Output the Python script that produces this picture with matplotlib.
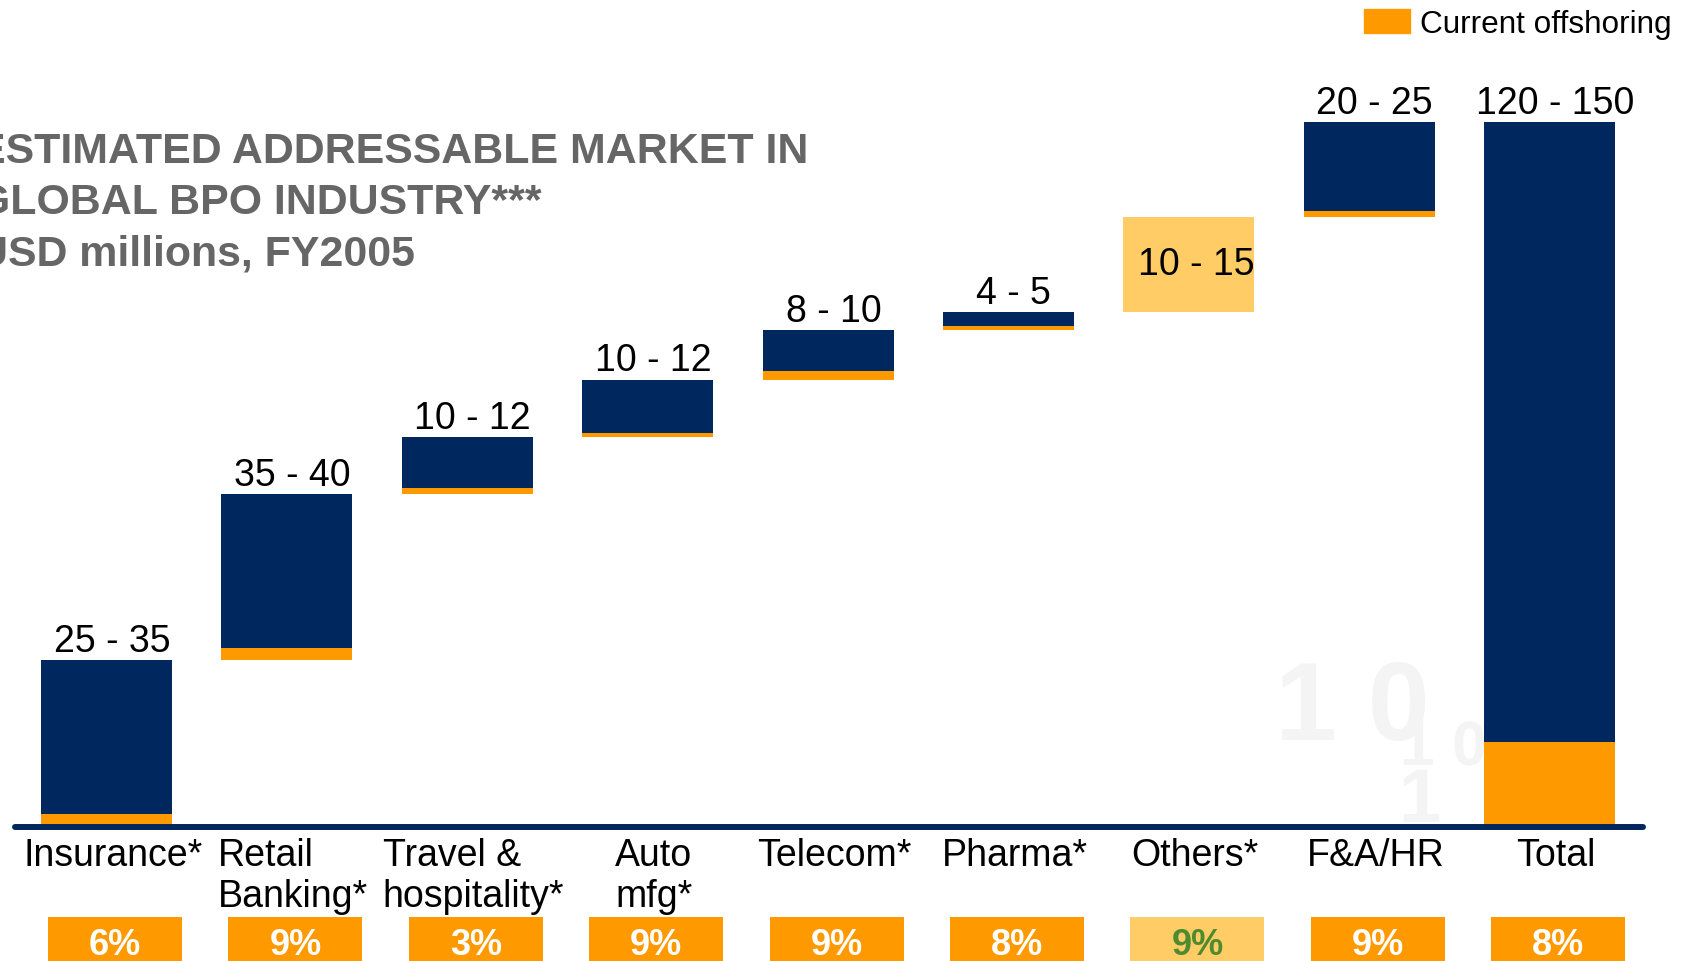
import numpy as np
import matplotlib.pyplot as plt
from matplotlib.patches import Rectangle

plt.rcParams['font.family'] = ['Liberation Sans', 'DejaVu Sans']

categories = ['Insurance*', 'Retail\nBanking*', 'Travel &\nhospitality*', 'Auto\nmfg*',
              'Telecom*', 'Pharma*', 'Others*', 'F&A/HR', 'Total']
range_labels = ['25 - 35', '35 - 40', '10 - 12', '10 - 12', '8 - 10', '4 - 5',
                '10 - 15', '20 - 25', '120 - 150']
# bar sizes (scale where the total bar = 135)
increments = [31.5, 32.0, 11.0, 11.0, 9.5, 3.5, 18.3, 18.2]
offshored = [1.9, 2.4, 1.2, 0.8, 1.6, 0.85, 0.0, 1.2, 15.8]
offshore_pct = ['6%', '9%', '3%', '9%', '9%', '8%', '9%', '9%', '8%']

navy = '#00285E'
orange = '#FF9900'
light = '#FFCC66'
green = '#4E8A2E'
grey = '#666666'

W, H = 1684, 961
fig = plt.figure(figsize=(W / 100, H / 100), dpi=100)
ax = fig.add_axes([0, 0, 1, 1])
ax.axis('off')

# pixel layout: bar centres every 180.4 px starting at 106.5, baseline at 824 px from top
step, x0 = 180.4, 106.5
k = 5.197          # px per unit
base_px = H - 824
ax.set_xlim(-x0 / step, (W - x0) / step)
ax.set_ylim(-base_px / k, (H - base_px) / k)


def py(px_top):
    # pixel row (from top) -> data y
    return (H - px_top - base_px) / k


x = np.arange(len(categories))
tops = np.cumsum(increments)
bottoms = np.concatenate([[0], tops[:-1], [0]])
heights = np.concatenate([increments, [tops[-1]]])
bw = 0.726

for i in x:
    if categories[i] == 'Others*':
        ax.bar(i, heights[i], bottom=bottoms[i], width=bw, color=light, zorder=3)
        ax.text(i + 0.04, bottoms[i] + heights[i] / 2, range_labels[i], ha='center',
                va='center', fontsize=27, zorder=4)
    else:
        ax.bar(i, heights[i], bottom=bottoms[i], width=bw, color=navy, zorder=3)
        ax.bar(i, offshored[i], bottom=bottoms[i], width=bw, color=orange, zorder=3)
        ax.text(i + 0.03, bottoms[i] + heights[i] + 1.6, range_labels[i], ha='center',
                va='baseline', fontsize=27, zorder=4)

# baseline
ax.plot([(15 - x0) / step, (1643 - x0) / step], [py(827)] * 2, color=navy, lw=4.3,
        solid_capstyle='round', zorder=5)

# category labels
for i in x:
    ax.text(i + 0.035, py(838), categories[i], ha='center', va='top', ma='left',
            fontsize=27, linespacing=1.18, zorder=4)

# percentage boxes
box_h = (H - 917) / k
for i in x:
    c = light if categories[i] == 'Others*' else orange
    tc = green if categories[i] == 'Others*' else 'white'
    ax.bar(i + 0.047, box_h + 5, bottom=py(917) - box_h - 5, width=0.743, color=c, zorder=3)
    ax.text(i + 0.047, py(955), offshore_pct[i], ha='center', va='baseline',
            fontsize=26, fontweight='bold', color=tc, zorder=4)

# title
title_lines = ['ESTIMATED ADDRESSABLE MARKET IN', 'GLOBAL BPO INDUSTRY***',
               'USD millions, FY2005']
for j, t in enumerate(title_lines):
    fig.text(-23 / W, 1 - (163 + 51 * j) / H, t, ha='left', va='baseline',
             fontsize=30.9, fontweight='bold', color=grey)

# legend
fig.patches.append(Rectangle((1364 / W, 1 - 33 / H), 46 / W, 24 / H,
                             transform=fig.transFigure, color=orange))
fig.text(1420 / W, 1 - 33 / H, 'Current offshoring', ha='left', va='baseline',
         fontsize=22.7)

# faint binary watermark behind the bars
wm = [('1 0', 1275, 740, 80), ('1 0', 1400, 765, 45), ('1', 1398, 822, 55)]
for s, px, pyy, fs in wm:
    ax.text((px - x0) / step, py(pyy), s, fontsize=fs, fontweight='bold',
            color='#F4F4F4', ha='left', va='baseline', zorder=1)

fig.savefig('out.png', dpi=100)
